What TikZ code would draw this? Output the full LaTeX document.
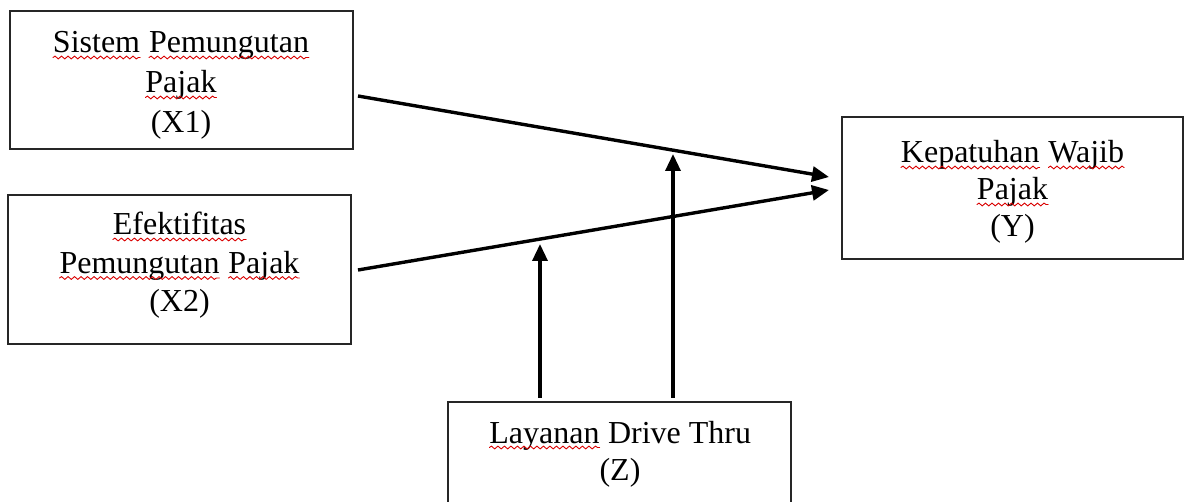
\documentclass[tikz,border=0pt]{standalone}
\usepackage{fontspec}
\setmainfont{Liberation Serif}
\usetikzlibrary{arrows.meta,decorations.pathmorphing}
\newcommand\wv[1]{\tikz[x=1pt,y=1pt,baseline=0pt]{\node[inner sep=0pt,outer sep=0pt,anchor=base](w){#1};\draw[red!85!black,line width=0.9pt,line cap=round,decorate,decoration={snake,amplitude=1.4pt,segment length=6.5pt}] ([yshift=-4.5pt]w.base west) -- ([yshift=-4.5pt]w.base east);}}
\tikzset{
  box/.style={draw=black!85,line width=1.6pt,rectangle,inner sep=0pt},
  lbl/.style={inner sep=0pt,align=center,anchor=base},
  arr/.style={line width=3.4pt,-{Triangle[length=17pt,width=15pt]}}
}
\begin{document}
\begin{tikzpicture}[x=1pt,y=-1pt]
\useasboundingbox (0,0) rectangle (1186,502);
\begin{scope}
\clip (0,0) rectangle (1186,502);
\node[box,minimum width=343pt,minimum height=138pt] (x1) at (181.5,80) {};
\node[box,minimum width=343pt,minimum height=149pt] (x2) at (179.5,269.5) {};
\node[box,minimum width=341pt,minimum height=142pt] (y) at (1012.5,188) {};
\node[box,minimum width=343pt,minimum height=118pt] (z) at (619.5,461) {};
\end{scope}
\node[lbl,font=\fontsize{32}{40}\selectfont] (x1t) at (181,133) {\wv{Sistem} \wv{Pemungutan}\\\wv{Pajak}\\(X1)};
\node[lbl,font=\fontsize{32}{38.5}\selectfont] (x2t) at (179.5,312) {\wv{Efektifitas}\\\wv{Pemungutan} \wv{Pajak}\\(X2)};
\node[lbl,font=\fontsize{32}{37}\selectfont] (yt) at (1012.5,237) {\wv{Kepatuhan} \wv{Wajib}\\\wv{Pajak}\\(Y)};
\node[lbl,font=\fontsize{32}{37}\selectfont] (zt) at (620,480) {\wv{Layanan} Drive Thru\\(Z)};
\coordinate (s1) at (358,96);
\coordinate (e1) at (829,177);
\coordinate (s2) at (358,270);
\coordinate (e2) at (829,190);
\coordinate (za) at (540,398);
\coordinate (ta) at (540,244);
\coordinate (zb) at (673,398);
\coordinate (tb) at (673,154);
\draw[arr] (s1) -- (e1);
\draw[arr] (s2) -- (e2);
\draw[arr] (za) -- (ta);
\draw[arr] (zb) -- (tb);
\end{tikzpicture}
\end{document}
